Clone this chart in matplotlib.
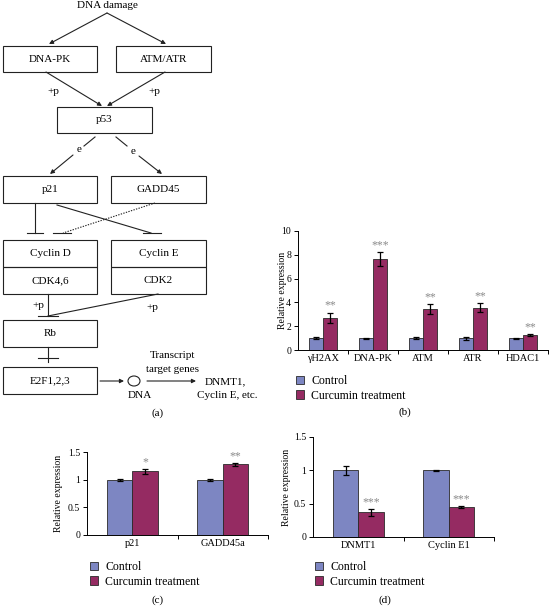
"""Curcumin / DNA-damage figure: pathway diagram (a) plus three bar panels (b-d)."""
import matplotlib
matplotlib.use("Agg")
import matplotlib.pyplot as plt
from matplotlib.patches import Rectangle, Ellipse, Patch
import numpy as np

plt.rcParams["font.family"] = ["Liberation Serif", "DejaVu Serif"]

W, H = 549, 607
CTRL = "#7d86c2"
CURC = "#952b62"
STAR = "#8a8a8a"

# ---- data ----
b_genes = ["\u03b3H2AX", "DNA-PK", "ATM", "ATR", "HDAC1"]
b_ctrl = [1.0, 1.0, 1.0, 1.0, 1.0]
b_ctrl_err = [0.08, 0.05, 0.1, 0.12, 0.05]
b_curc = [2.7, 7.65, 3.45, 3.55, 1.25]
b_curc_err = [0.42, 0.58, 0.4, 0.38, 0.06]
b_stars = ["**", "***", "**", "**", "**"]

c_genes = ["p21", "GADD45a"]
c_ctrl = [1.0, 1.0]
c_ctrl_err = [0.02, 0.02]
c_curc = [1.15, 1.28]
c_curc_err = [0.05, 0.03]
c_stars = ["*", "**"]

d_genes = ["DNMT1", "Cyclin E1"]
d_ctrl = [1.0, 1.0]
d_ctrl_err = [0.07, 0.01]
d_curc = [0.37, 0.45]
d_curc_err = [0.05, 0.01]
d_stars = ["***", "***"]


def px_axes(fig, x0, x1, y_top, y_bot):
    return fig.add_axes([x0 / W, (H - y_bot) / H, (x1 - x0) / W, (y_bot - y_top) / H])


def bar_panel(ax, genes, ctrl, ctrl_err, curc, curc_err, stars, ymax, yticks,
              yticklabels, star_off):
    x = np.arange(len(genes))
    bw = 0.28
    ek = dict(ecolor="black", elinewidth=0.9, capsize=2.2, capthick=0.9)
    ax.bar(x - bw / 2, ctrl, bw, yerr=ctrl_err, color=CTRL, edgecolor="#2a2a2a",
           linewidth=0.6, error_kw=ek)
    ax.bar(x + bw / 2, curc, bw, yerr=curc_err, color=CURC, edgecolor="#2a2a2a",
           linewidth=0.6, error_kw=ek)
    for xi, v, e, s in zip(x, curc, curc_err, stars):
        ax.text(xi + bw / 2, v + e + star_off, s, ha="center", va="bottom",
                color=STAR, fontsize=8.5)
    ax.set_xlim(-0.5, len(genes) - 0.5)
    ax.set_ylim(0, ymax)
    ax.set_yticks(yticks)
    ax.set_yticklabels(yticklabels, fontsize=7)
    ax.set_xticks(x)
    ax.set_xticklabels(genes, fontsize=7.5)
    ax.set_xticks(np.arange(len(genes)) + 0.5, minor=True)
    ax.tick_params(axis="x", which="major", length=0, pad=3)
    ax.tick_params(axis="x", which="minor", length=3, width=0.7, direction="out")
    ax.tick_params(axis="y", length=3, width=0.7, direction="out", pad=2)
    for sp in ("top", "right"):
        ax.spines[sp].set_visible(False)
    for sp in ("left", "bottom"):
        ax.spines[sp].set_linewidth(0.7)
    ax.set_ylabel("Relative expression", fontsize=7)


def legend(fig, x, y):
    handles = [Patch(facecolor=CTRL, edgecolor="#2a2a2a", linewidth=0.6, label="Control"),
               Patch(facecolor=CURC, edgecolor="#2a2a2a", linewidth=0.6,
                     label="Curcumin treatment")]
    fig.legend(handles=handles, loc="upper left", bbox_to_anchor=(x / W, 1 - y / H),
               frameon=False, fontsize=8.5, handlelength=0.7, handleheight=0.7,
               handletextpad=0.6, labelspacing=0.22, borderaxespad=0, borderpad=0)


fig = plt.figure(figsize=(W / 100, H / 100), dpi=100)

# ---- (a) pathway diagram, drawn in pixel coordinates ----
dg = fig.add_axes([0, 0, 1, 1])
dg.set_xlim(0, W)
dg.set_ylim(H, 0)
dg.axis("off")
LW = 0.8
FS = 8


def box(x0, y0, x1, y1, label):
    dg.add_patch(Rectangle((x0, y0), x1 - x0, y1 - y0, fill=False, lw=LW, ec="#222222"))
    dg.text((x0 + x1) / 2, (y0 + y1) / 2, label, ha="center", va="center", fontsize=FS)


def arrow(x0, y0, x1, y1):
    dg.annotate("", xy=(x1, y1), xytext=(x0, y0),
                arrowprops=dict(arrowstyle="-|>", lw=LW, color="#222222",
                                mutation_scale=6, shrinkA=0, shrinkB=0))


def line(x0, y0, x1, y1, ls="-"):
    dg.plot([x0, x1], [y0, y1], color="#222222", lw=LW, ls=ls)


def tbar(x, y, half=9):
    dg.plot([x - half, x + half], [y, y], color="#222222", lw=LW)


dg.text(107, 6, "DNA damage", ha="center", va="center", fontsize=FS)
arrow(107, 13, 49, 44)
arrow(107, 13, 166, 44)
box(3, 46, 97, 72, "DNA-PK")
box(116, 46, 211, 72, "ATM/ATR")
arrow(46, 72, 102, 106)
arrow(165, 72, 107, 106)
dg.text(53, 92, "+p", ha="center", va="center", fontsize=FS)
dg.text(154, 92, "+p", ha="center", va="center", fontsize=FS)
box(57, 107, 152, 133, "p53")
line(95, 137, 84, 146)
arrow(73, 155, 50, 174)
dg.text(79, 150, "e", ha="center", va="center", fontsize=FS)
line(116, 137, 127, 146)
arrow(139, 156, 162, 174)
dg.text(133, 152, "e", ha="center", va="center", fontsize=FS)
box(3, 176, 97, 203, "p21")
box(111, 176, 206, 203, "GADD45")
line(35, 203, 35, 233)
tbar(35, 233, 8)
line(57, 205, 151, 233)
tbar(152, 233, 9)
line(155, 203, 63, 233, ls=(0, (1.2, 1.2)))
tbar(62, 233, 9)
box(3, 240, 97, 267, "Cyclin D")
box(3, 267, 97, 294, "CDK4,6")
box(111, 240, 206, 267, "Cyclin E")
box(111, 267, 206, 294, "CDK2")
line(48, 294, 48, 316)
line(158, 294, 48, 316)
tbar(48, 316, 10)
dg.text(38, 305, "+p", ha="center", va="center", fontsize=FS)
dg.text(152, 307, "+p", ha="center", va="center", fontsize=FS)
box(3, 320, 97, 347, "Rb")
line(48, 347, 48, 362)
tbar(48, 358, 10)
box(3, 367, 97, 394, "E2F1,2,3")
arrow(100, 381, 124, 381)
dg.add_patch(Ellipse((134, 381), 12, 10, fill=False, lw=LW, ec="#222222"))
dg.text(140, 396, "DNA", ha="center", va="center", fontsize=FS)
arrow(147, 381, 196, 381)
dg.text(172, 356, "Transcript", ha="center", va="center", fontsize=FS)
dg.text(172, 370, "target genes", ha="center", va="center", fontsize=FS)
dg.text(205, 382, "DNMT1,", ha="left", va="center", fontsize=FS)
dg.text(227, 395, "Cyclin E, etc.", ha="center", va="center", fontsize=FS)
dg.text(158, 413, "(a)", ha="center", va="center", fontsize=FS)

# ---- (b) ----
axb = px_axes(fig, 298, 548, 231, 350)
bar_panel(axb, b_genes, b_ctrl, b_ctrl_err, b_curc, b_curc_err, b_stars,
          10, [0, 2, 4, 6, 8, 10], ["0", "2", "4", "6", "8", "10"], 0.1)
axb.yaxis.set_label_coords(-0.045, 0.5)
legend(fig, 296, 375)
fig.text(405 / W, 1 - 412 / H, "(b)", ha="center", va="center", fontsize=FS)

# ---- (c) ----
axc = px_axes(fig, 87, 268, 452, 535)
bar_panel(axc, c_genes, c_ctrl, c_ctrl_err, c_curc, c_curc_err, c_stars,
          1.5, [0, 0.5, 1, 1.5], ["0", "0.5", "1", "1.5"], 0.01)
axc.yaxis.set_label_coords(-0.13, 0.5)
legend(fig, 90, 561)
fig.text(158 / W, 1 - 600 / H, "(c)", ha="center", va="center", fontsize=FS)

# ---- (d) ----
axd = px_axes(fig, 313, 494, 437, 537)
bar_panel(axd, d_genes, d_ctrl, d_ctrl_err, d_curc, d_curc_err, d_stars,
          1.5, [0, 0.5, 1, 1.5], ["0", "0.5", "1", "1.5"], 0.01)
axd.yaxis.set_label_coords(-0.12, 0.5)
legend(fig, 315, 561)
fig.text(385 / W, 1 - 600 / H, "(d)", ha="center", va="center", fontsize=FS)

fig.savefig("out.png", dpi=100)
